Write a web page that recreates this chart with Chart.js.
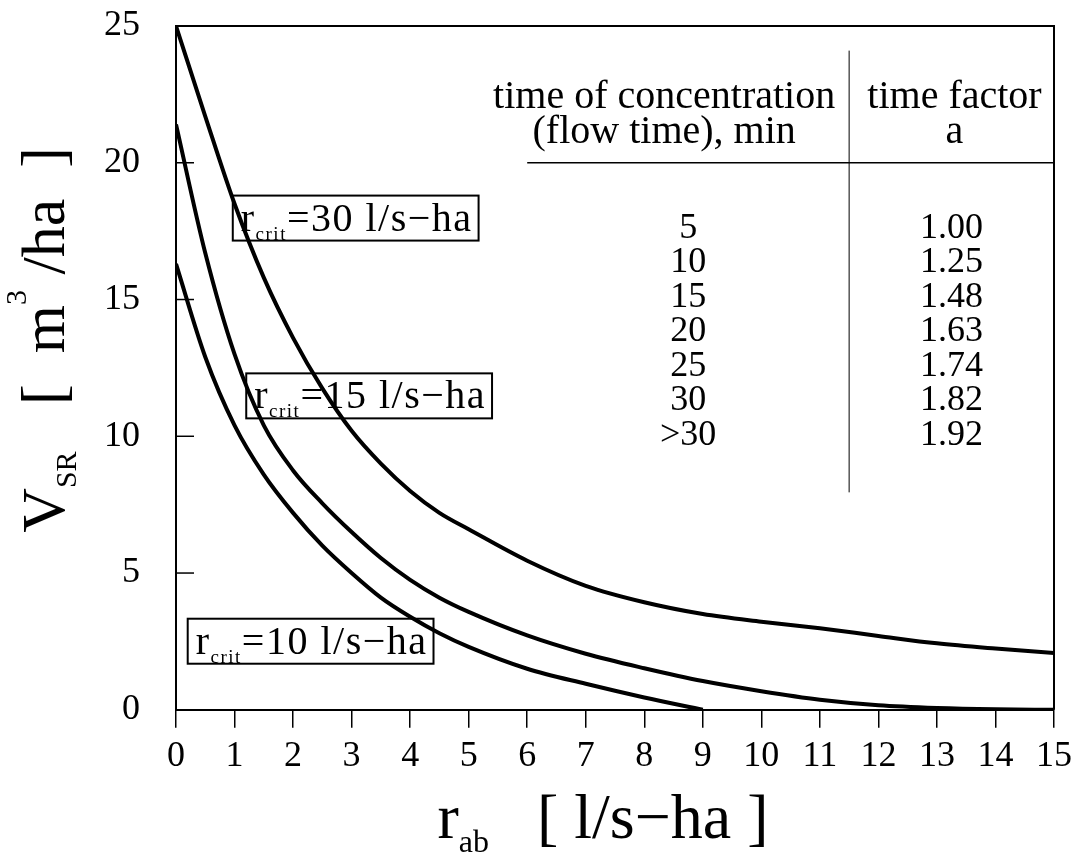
<!DOCTYPE html>
<html>
<head>
<meta charset="utf-8">
<script src="https://cdn.jsdelivr.net/npm/chart.js@4/dist/chart.umd.min.js"></script>
<style>
  html, body { margin: 0; padding: 0; background: #fff; }
  #wrap { position: relative; width: 1075px; height: 857px; }
</style>
</head>
<body>
<div id="wrap"><canvas id="chart"></canvas></div>
<script>
// Storage volume V_SR against outflow rate r_ab, one curve per critical rain rate
const rAb = [0, 0.5, 1, 1.5, 2, 2.5, 3, 3.5, 4, 4.5, 5, 6, 7, 8, 9, 10, 11, 12, 13, 14, 15];
const vCrit30 = [25, 21.7, 18.5, 15.8, 13.6, 11.75, 10.2, 9.0, 8.0, 7.2, 6.6, 5.45, 4.53, 3.93, 3.5, 3.22, 2.98, 2.7, 2.43, 2.24, 2.08];
const vCrit15 = [21.4, 16.7, 13.0, 10.4, 8.75, 7.55, 6.5, 5.55, 4.75, 4.1, 3.58, 2.72, 2.05, 1.52, 1.05, 0.68, 0.37, 0.17, 0.07, 0.02, 0];
const vCrit10 = [16.3, 12.9, 10.4, 8.6, 7.2, 6.0, 5.0, 4.1, 3.4, 2.8, 2.3, 1.5, 0.95, 0.45, 0, null, null, null, null, null, null];

const critRates = ["30", "15", "10"];

// time of concentration table
const flowTimes = ["5", "10", "15", "20", "25", "30", ">30"];
const timeFactors = ["1.00", "1.25", "1.48", "1.63", "1.74", "1.82", "1.92"];

const xTicks = [0, 1, 2, 3, 4, 5, 6, 7, 8, 9, 10, 11, 12, 13, 14, 15];
const yTicks = [0, 5, 10, 15, 20, 25];

const FONT = "'Liberation Serif', 'Times New Roman', serif";

// where the r_crit boxes sit, in axis units (left / top corner)
const boxAnchors = [
  { x: 0.97, y: 18.8 },
  { x: 1.2, y: 12.3 },
  { x: 0.2, y: 3.33 }
];

function toPoints(xs, ys) {
  const pts = [];
  xs.forEach((x, i) => {
    if (ys[i] !== null) pts.push({ x: x, y: ys[i] });
  });
  return pts;
}

// draws a run of text pieces with their own size and vertical shift
function drawRich(ctx, parts, x, y, align, spacing) {
  ctx.letterSpacing = (spacing || 0) + "px";
  let total = 0;
  parts.forEach(p => {
    ctx.font = p.size + "px " + FONT;
    p.w = ctx.measureText(p.text).width;
    total += p.w;
  });
  let cx = x;
  if (align === "center") cx = x - total / 2;
  if (align === "right") cx = x - total;
  ctx.textAlign = "left";
  ctx.textBaseline = "alphabetic";
  parts.forEach(p => {
    ctx.font = p.size + "px " + FONT;
    ctx.fillText(p.text, cx, y + (p.dy || 0));
    cx += p.w;
  });
  ctx.letterSpacing = "0px";
  return total;
}

const extrasPlugin = {
  id: "extras",
  afterDatasetsDraw(chart) {
    const ctx = chart.ctx;
    const area = chart.chartArea;
    const xs = chart.scales.x;
    const ys = chart.scales.y;
    ctx.save();
    ctx.fillStyle = "#000";
    ctx.strokeStyle = "#000";

    // top and right edges of the frame
    ctx.lineWidth = 2;
    ctx.beginPath();
    ctx.moveTo(area.left, area.top);
    ctx.lineTo(area.right, area.top);
    ctx.lineTo(area.right, area.bottom);
    ctx.stroke();

    // y ticks point into the plot, labels sit well left of the axis
    ctx.lineWidth = 1.5;
    ctx.font = "36px " + FONT;
    ctx.textAlign = "right";
    ctx.textBaseline = "middle";
    yTicks.forEach(v => {
      const py = ys.getPixelForValue(v);
      ctx.beginPath();
      ctx.moveTo(area.left, py);
      ctx.lineTo(area.left + 18, py);
      ctx.stroke();
      ctx.fillText(String(v), area.left - 36, py);
    });

    // r_crit boxes
    ctx.lineWidth = 2;
    critRates.forEach((rate, i) => {
      const a = boxAnchors[i];
      const left = xs.getPixelForValue(a.x);
      const top = ys.getPixelForValue(a.y);
      const w = drawRich(ctx, [
        { text: "r", size: 40 },
        { text: "crit", size: 19, dy: 9 },
        { text: "=" + rate + " l/s\u2212ha", size: 40 }
      ], left + 8, top + 35, "left", 1.5);
      ctx.strokeRect(left, top, w + 14, 45);
    });

    // table of time factors
    ctx.lineWidth = 1;
    ctx.beginPath();
    ctx.moveTo(xs.getPixelForValue(11.5), ys.getPixelForValue(24.1));
    ctx.lineTo(xs.getPixelForValue(11.5), ys.getPixelForValue(7.95));
    ctx.stroke();
    ctx.lineWidth = 1.5;
    ctx.beginPath();
    ctx.moveTo(xs.getPixelForValue(6.0), ys.getPixelForValue(20));
    ctx.lineTo(area.right, ys.getPixelForValue(20));
    ctx.stroke();

    ctx.font = "40px " + FONT;
    ctx.textAlign = "center";
    ctx.textBaseline = "middle";
    const c1 = xs.getPixelForValue(8.34);
    const c2 = xs.getPixelForValue(13.3);
    ctx.fillText("time of concentration", c1, ys.getPixelForValue(22.4));
    ctx.fillText("(flow time), min", c1, ys.getPixelForValue(21.1));
    ctx.fillText("time factor", c2, ys.getPixelForValue(22.4));
    ctx.fillText("a", c2, ys.getPixelForValue(21.1));
    ctx.font = "36px " + FONT;
    flowTimes.forEach((t, i) => {
      const py = ys.getPixelForValue(17.6 - i * 1.26);
      ctx.fillText(t, xs.getPixelForValue(8.75), py);
      ctx.fillText(timeFactors[i], xs.getPixelForValue(13.25), py);
    });

    // axis titles with subscripts
    const midX = (area.left + area.right) / 2;
    drawRich(ctx, [
      { text: "r", size: 64 },
      { text: "ab", size: 32, dy: 14 },
      { text: "   [ l/s\u2212ha ]", size: 64 }
    ], midX - 12, 838, "center");

    ctx.translate(64, 340);
    ctx.rotate(-Math.PI / 2);
    drawRich(ctx, [
      { text: "V", size: 62 },
      { text: "SR", size: 30, dy: 12 },
      { text: "   [  m", size: 62 },
      { text: "3", size: 30, dy: -38 },
      { text: " /ha  ]", size: 62 }
    ], 0, 0, "center");
    ctx.restore();
  }
};

function lineSet(values) {
  return {
    data: toPoints(rAb, values),
    borderColor: "#000",
    borderWidth: 4,
    pointRadius: 0,
    fill: false,
    cubicInterpolationMode: "monotone"
  };
}

new Chart(document.getElementById("chart"), {
  type: "line",
  data: {
    datasets: [lineSet(vCrit30), lineSet(vCrit15), lineSet(vCrit10)]
  },
  options: {
    responsive: true,
    maintainAspectRatio: false,
    animation: false,
    layout: { padding: { left: 176, top: 26, right: 21, bottom: 71 } },
    plugins: {
      legend: { display: false },
      tooltip: { enabled: false }
    },
    scales: {
      x: {
        type: "linear",
        min: 0,
        max: 15,
        afterBuildTicks: axis => { axis.ticks = xTicks.map(v => ({ value: v })); },
        ticks: { color: "#000", font: { family: FONT, size: 36, lineHeight: 1.45 }, padding: 3, maxRotation: 0 },
        grid: { drawOnChartArea: false, drawTicks: true, tickLength: 18, color: "#000", lineWidth: 1.5 },
        border: { color: "#000", width: 2 }
      },
      y: {
        type: "linear",
        min: 0,
        max: 25,
        afterBuildTicks: axis => { axis.ticks = yTicks.map(v => ({ value: v })); },
        ticks: { display: false },
        grid: { drawOnChartArea: false, drawTicks: false },
        border: { color: "#000", width: 2 }
      }
    }
  },
  plugins: [extrasPlugin]
});
</script>
</body>
</html>
